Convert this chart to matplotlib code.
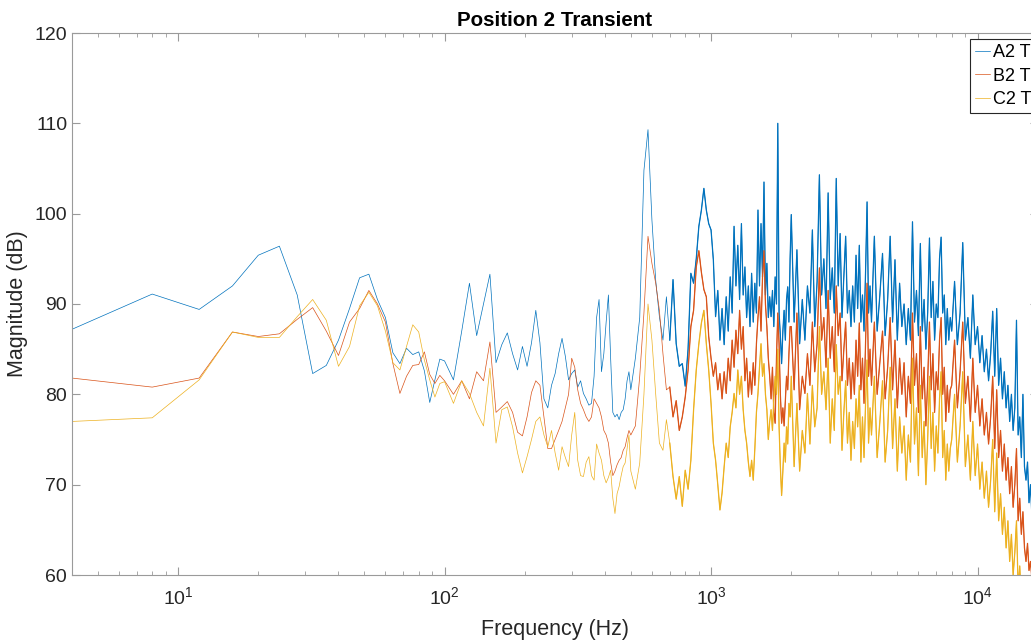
import numpy as np
import matplotlib
matplotlib.use("Agg")
import matplotlib.pyplot as plt
from matplotlib.ticker import LogLocator, NullFormatter, LogFormatterSciNotation

##Frequency bins (Hz) the spectra were read at, coarser where the plot is dense
freq_a = np.arange(4, 101, 4)
freq_b = np.arange(108, 493, 8)
freq_c = np.arange(500, 1981, 20)
freq_d1 = np.arange(2000, 3951, 50)
freq_d2 = np.arange(4000, 7901, 100)
freq_d3 = np.arange(8000, 16001, 200)
freq = np.concatenate([freq_a, freq_b, freq_c, freq_d1, freq_d2, freq_d3])

series_names = ["A2 T", "B2 T", "C2 T"]

##Magnitudes in dB, estimated from the reference plot
a2_t = [
    # 4 - 100 Hz
    87.2, 91.1, 89.4, 92.0, 95.4, 96.4, 91.0, 82.3, 83.2, 86.0,
    89.5, 92.9, 93.3, 90.5, 88.5, 84.6, 83.4, 85.1, 84.4, 84.7,
    82.6, 79.1, 81.6, 83.9, 83.7,
    # 108 - 492 Hz
    81.6, 87.0, 92.3, 86.5, 90.0, 93.3, 83.5, 85.5, 86.8, 84.5,
    82.7, 85.3, 83.1, 85.7, 89.3, 85.7, 79.5, 78.5, 81.0, 82.3,
    84.5, 86.2, 84.2, 81.6, 82.3, 82.7, 80.8, 81.5, 80.1, 79.5,
    78.8, 79.0, 82.0, 88.5, 90.5, 82.5, 84.5, 88.0, 91.0, 84.0,
    78.0, 77.5, 77.8, 77.2, 78.0, 78.3, 79.5, 81.5, 82.5,
    # 500 - 1980 Hz
    80.5, 84.0, 88.5, 104.8, 109.3, 99.3, 92.6, 88.6, 86.0, 90.8,
    86.0, 92.7, 85.6, 83.1, 83.4, 80.9, 85.0, 93.4, 92.3, 95.0,
    98.6, 100.4, 102.8, 100.4, 98.9, 98.2, 94.9, 88.6, 91.5, 86.0,
    89.5, 85.5, 90.8, 87.0, 93.0, 89.0, 98.6, 92.0, 96.5, 90.5,
    98.9, 91.0, 94.1, 88.5, 92.0, 87.5, 93.4, 88.0, 92.3, 89.0,
    100.4, 92.0, 98.9, 93.0, 103.5, 91.0, 94.5, 88.5, 90.8, 88.6,
    91.5, 87.5, 93.0, 90.0, 110.0, 89.0, 86.5, 83.4, 87.0, 89.3,
    86.0, 90.5, 91.9, 88.0, 95.0,
    # 2000 - 3950 Hz
    99.9, 88.0, 96.0, 85.6, 90.5, 86.0, 92.0, 89.0, 98.2, 87.5,
    92.5, 104.3, 91.0, 95.0, 89.5, 102.3, 90.5, 94.0, 89.0, 103.9,
    92.0, 97.8, 88.5, 93.0, 97.5, 89.0, 91.5, 87.5, 92.0, 88.0,
    95.4, 89.5, 96.5, 88.0, 91.0, 87.0, 93.5, 101.3, 89.0, 92.0,
    # 4000 - 7900 Hz
    88.0, 97.5, 87.0, 91.0, 95.6, 86.5, 90.5, 97.5, 88.0, 94.9,
    86.0, 92.3, 87.5, 90.0, 85.5, 89.5, 86.0, 99.1, 88.0, 91.5,
    86.5, 96.7, 87.0, 90.5, 85.0, 89.0, 97.3, 88.5, 92.5, 86.0,
    90.0, 88.5, 95.0, 97.4, 89.0, 91.0, 85.5, 89.5, 86.0, 88.5,
    # 8000 - 16000 Hz
    87.0, 92.5, 85.5, 89.0, 96.8, 86.0, 88.5, 84.0, 91.0, 85.5,
    87.5, 83.5, 86.5, 82.5, 85.0, 81.5, 84.5, 89.2, 82.0, 89.5,
    81.0, 84.0, 79.5, 82.5, 78.5, 81.0, 77.0, 80.0, 76.0, 78.5,
    88.2, 75.5, 77.5, 73.0, 80.0, 72.0, 70.5, 72.5, 68.0, 70.0,
    66.5,
]

b2_t = [
    # 4 - 100 Hz
    81.8, 80.8, 81.8, 86.9, 86.4, 86.7, 88.3, 89.6, 87.0, 84.3,
    88.0, 89.5, 91.5, 90.0, 88.0, 83.4, 80.1, 82.0, 83.2, 83.3,
    84.7, 82.2, 81.2, 82.1, 81.5,
    # 108 - 492 Hz
    80.0, 81.5, 79.5, 82.5, 81.5, 85.8, 78.0, 78.6, 79.2, 78.0,
    75.8, 75.4, 77.5, 80.2, 81.5, 81.0, 77.5, 74.0, 74.0, 75.0,
    76.0, 77.0, 78.5, 80.0, 84.0, 83.0, 80.5, 79.0, 78.3, 77.5,
    77.0, 77.5, 79.5, 79.0, 78.5, 77.5, 76.0, 75.5, 74.6, 72.5,
    71.0, 71.5, 72.2, 72.7, 73.0, 73.8, 74.2, 75.2, 76.0,
    # 500 - 1980 Hz
    75.5, 76.5, 82.0, 89.0, 97.5, 94.5, 92.3, 89.3, 84.5, 80.5,
    80.8, 77.5, 79.3, 76.0, 77.5, 79.7, 82.7, 87.5, 89.3, 94.1,
    95.9, 93.5, 91.6, 90.8, 86.4, 84.0, 82.0, 83.5, 80.5, 82.3,
    79.5, 82.5, 80.1, 84.0, 81.5, 86.0, 83.0, 87.1, 84.5, 89.3,
    85.0, 87.5, 81.5, 84.0, 79.7, 82.5, 80.0, 83.5, 81.0, 85.6,
    88.5, 90.8, 87.0, 93.0, 95.9, 90.0, 87.5, 84.0, 82.0, 79.5,
    83.0, 78.0, 76.8, 84.0, 89.0, 85.6, 80.0, 76.8, 78.5, 76.5,
    79.2, 82.0, 80.5, 84.5, 87.5,
    # 2000 - 3950 Hz
    87.5, 80.5, 89.0, 78.3, 82.0, 80.1, 84.5, 81.0, 88.0, 82.5,
    85.6, 94.0, 86.0, 88.5, 83.0, 91.5, 84.0, 87.5, 82.5, 92.0,
    86.5, 89.0, 81.5, 85.0, 88.0, 81.0, 84.0, 79.5, 83.5, 80.0,
    86.0, 82.0, 87.9, 80.5, 84.0, 79.0, 85.5, 92.3, 82.0, 85.0,
    # 4000 - 7900 Hz
    81.0, 88.0, 80.0, 83.5, 87.0, 79.5, 83.0, 88.5, 80.5, 86.0,
    78.5, 84.0, 80.0, 83.5, 77.5, 82.0, 79.0, 89.0, 81.0, 84.5,
    78.0, 87.5, 79.5, 83.0, 76.5, 81.5, 88.0, 80.5, 84.5, 78.0,
    82.5, 80.5, 86.0, 88.5, 80.0, 83.0, 77.0, 81.0, 78.0, 80.5,
    # 8000 - 16000 Hz
    81.0, 86.0, 78.5, 82.5, 88.0, 79.0, 82.0, 77.0, 84.0, 78.0,
    81.0, 76.5, 79.5, 75.5, 78.0, 74.5, 77.5, 82.0, 74.0, 80.5,
    73.0, 76.0, 71.5, 74.5, 70.5, 73.0, 69.0, 72.0, 67.5, 70.0,
    74.0, 66.0, 68.5, 64.5, 67.0, 63.0, 61.5, 63.5, 60.5, 61.5,
    59.5,
]

c2_t = [
    # 4 - 100 Hz
    77.0, 77.4, 81.6, 86.9, 86.3, 86.3, 88.6, 90.5, 88.2, 83.1,
    85.3, 89.8, 91.3, 89.8, 87.0, 83.5, 82.7, 85.3, 87.7, 86.9,
    83.8, 81.6, 79.7, 81.2, 81.4,
    # 108 - 492 Hz
    79.0, 81.5, 80.1, 78.0, 76.5, 82.9, 74.6, 78.3, 78.6, 76.4,
    73.5, 71.3, 73.1, 75.0, 77.0, 77.5, 75.5, 74.2, 76.0, 73.5,
    71.6, 74.2, 73.0, 72.0, 75.5, 78.0, 72.7, 71.0, 70.9, 72.5,
    73.1, 71.0, 70.5, 74.5, 73.5, 72.7, 71.0, 70.2, 70.8, 71.6,
    68.5, 66.8, 69.0, 69.8, 71.0, 72.0, 72.4, 74.0, 75.5,
    # 500 - 1980 Hz
    71.5, 69.5, 72.4, 80.0, 90.0, 86.0, 80.0, 74.6, 73.8, 77.2,
    74.6, 70.9, 68.4, 70.9, 67.6, 71.6, 69.5, 72.7, 78.3, 82.7,
    85.6, 87.9, 89.3, 85.6, 82.7, 79.0, 74.6, 72.7, 70.0, 67.2,
    69.1, 72.0, 74.6, 73.0, 76.4, 78.0, 80.1, 78.5, 82.7, 80.0,
    82.0, 78.3, 76.0, 74.6, 72.5, 70.9, 72.7, 70.5, 74.0, 78.0,
    80.1, 83.0, 85.6, 82.0, 83.4, 80.0, 78.3, 75.0, 77.0, 78.3,
    76.0, 79.5, 82.0, 80.0, 85.0, 76.4, 72.0, 68.8, 71.5, 74.6,
    72.5, 76.4, 74.5, 79.0, 77.5,
    # 2000 - 3950 Hz
    82.0, 72.0, 79.0, 71.5, 76.0, 73.5, 80.1, 74.5, 81.0, 76.4,
    78.5, 87.5, 80.0, 82.5, 78.3, 84.0, 74.6, 79.5, 76.0, 85.5,
    80.0, 82.0, 73.8, 78.0, 81.5, 74.6, 78.0, 72.7, 77.0, 74.0,
    79.5, 76.4, 81.0, 72.5, 77.5, 73.0, 79.0, 83.8, 74.6, 78.5,
    # 4000 - 7900 Hz
    75.5, 82.0, 73.0, 77.0, 81.5, 72.5, 76.0, 83.0, 74.0, 79.5,
    71.5, 77.5, 73.5, 76.5, 70.5, 75.5, 72.5, 84.0, 74.5, 78.5,
    71.0, 81.0, 73.0, 77.0, 70.0, 75.0, 82.0, 74.0, 78.0, 71.5,
    76.5, 73.5, 79.5, 82.5, 73.0, 76.0, 70.5, 74.5, 71.5, 74.0,
    # 8000 - 16000 Hz
    75.0, 80.0, 72.5, 76.5, 82.5, 72.0, 75.5, 70.5, 77.0, 71.0,
    74.5, 69.5, 72.5, 68.5, 71.5, 67.5, 70.5, 75.0, 67.0, 73.5,
    66.0, 69.0, 64.5, 67.5, 63.0, 66.0, 61.5, 64.5, 60.0, 62.5,
    66.0, 58.5, 61.0, 57.0, 59.5, 56.0, 57.5, 55.0, 56.5, 54.5,
    55.0,
]

y_ticks = [60, 70, 80, 90, 100, 110, 120]

## MATLAB default line colours
colors = ["#0072BD", "#D95319", "#EDB120"]

plt.rcParams["font.family"] = ["Liberation Sans", "DejaVu Sans"]
plt.rcParams["mathtext.fontset"] = "custom"
plt.rcParams["mathtext.rm"] = "Liberation Sans"
plt.rcParams["mathtext.it"] = "Liberation Sans"
plt.rcParams["mathtext.default"] = "regular"

fig = plt.figure(figsize=(10.31, 6.41), dpi=100)
# axes run past the right edge of the picture, like the cropped original
ax = fig.add_axes([72 / 1031, 66 / 641, 966 / 1031, 542 / 641])

all_vals = [np.array(a2_t), np.array(b2_t), np.array(c2_t)]
for vals, name, col in zip(all_vals, series_names, colors):
    ax.plot(freq, vals, color=col, lw=0.5, label=name)

## the original spectra are far denser above ~700 Hz, so draw that part heavier
dense = freq >= 700
for vals, col in zip(all_vals, colors):
    ax.plot(freq[dense], vals[dense], color=col, lw=0.9)

ax.set_xscale("log")
ax.set_xlim(4, 16860)
ax.set_ylim(60, 120)
ax.set_yticks(y_ticks)
ax.xaxis.set_major_locator(LogLocator(base=10))
ax.xaxis.set_major_formatter(LogFormatterSciNotation())
ax.xaxis.set_minor_locator(LogLocator(base=10, subs=np.arange(2, 10)))
ax.xaxis.set_minor_formatter(NullFormatter())

axcol = "#9a9a9a"
for sp in ax.spines.values():
    sp.set_color(axcol)
    sp.set_linewidth(0.8)
ax.tick_params(which="both", direction="in", top=True, right=True, color=axcol,
               labelcolor="#262626", labelsize=14)
ax.tick_params(which="major", length=6)
ax.tick_params(which="minor", length=3)
ax.tick_params(axis="x", pad=8)

ax.set_title("Position 2 Transient", fontsize=14.8, fontweight="bold", pad=5)
ax.set_xlabel("Frequency (Hz)", fontsize=15.5, color="#262626", labelpad=8)
ax.set_ylabel("Magnitude (dB)", fontsize=15.5, color="#262626", labelpad=5)

leg = ax.legend(loc="upper left", bbox_to_anchor=(970 / 1031, 1 - 39 / 641),
                bbox_transform=fig.transFigure, fontsize=13, frameon=True,
                fancybox=False, framealpha=1, edgecolor="#262626",
                handlelength=0.8, handletextpad=0.2, labelspacing=0.35,
                borderpad=0.3, borderaxespad=0)
leg.get_frame().set_linewidth(0.8)

fig.savefig("out.png", dpi=100)
